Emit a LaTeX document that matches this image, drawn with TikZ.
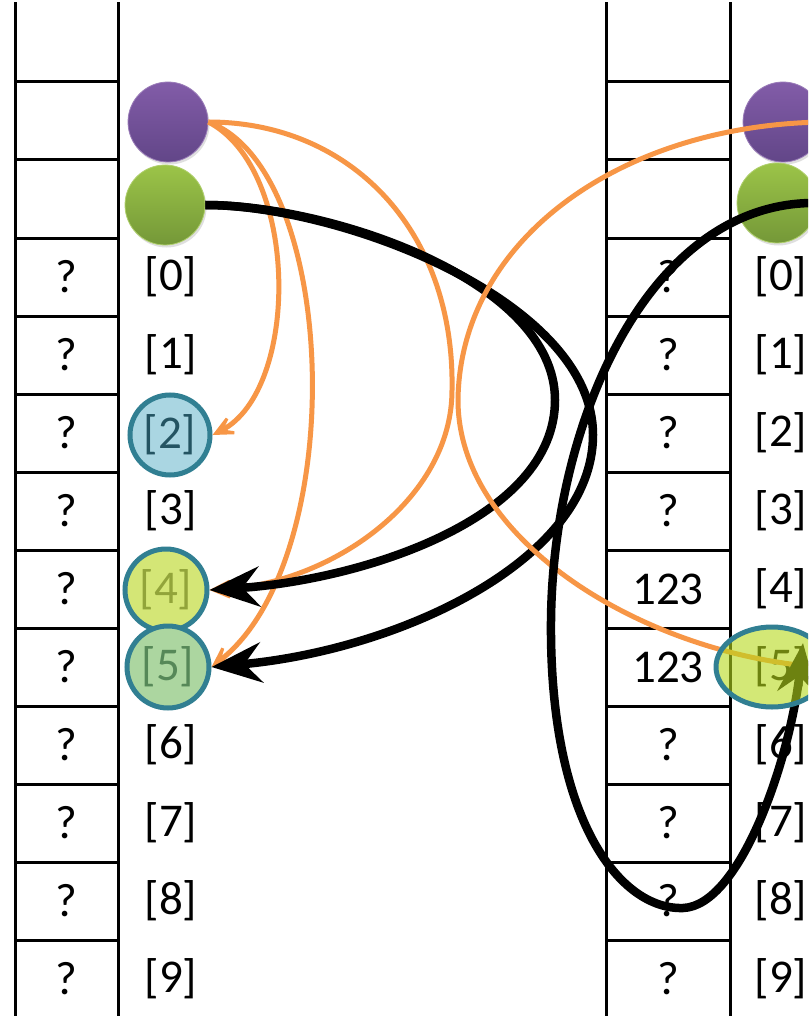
\documentclass[tikz,border=0pt]{standalone}
\usepackage{fontspec}
\setmainfont{Carlito}
\usetikzlibrary{arrows.meta,shadows,shapes.geometric}

\definecolor{accOrange}{RGB}{247,150,70}
\definecolor{purpleTop}{RGB}{130,92,168}
\definecolor{purpleBot}{RGB}{98,70,136}
\definecolor{greenTop}{RGB}{156,196,72}
\definecolor{greenBot}{RGB}{116,152,56}
\definecolor{tealEdge}{RGB}{49,127,146}
\definecolor{blueFill}{RGB}{170,214,226}
\definecolor{blueText}{RGB}{36,84,98}
\definecolor{limeFill}{RGB}{212,230,118}
\definecolor{limeText}{RGB}{146,164,58}
\definecolor{limeGlass}{RGB}{183,217,27}
\definecolor{mintFill}{RGB}{172,214,160}
\definecolor{mintText}{RGB}{86,136,88}

\begin{document}
\begin{tikzpicture}[x=1pt,y=-1pt,
  gridline/.style={line width=3pt, line cap=rect},
  val/.style={font=\fontsize{47}{54}\selectfont, inner sep=0pt},
  ballP/.style={circle, minimum size=80pt, inner sep=0pt,
    top color=purpleTop, bottom color=purpleBot, draw=purpleTop!80!white, line width=0.8pt,
    drop shadow={shadow xshift=1.5pt, shadow yshift=-2.5pt, opacity=0.25}},
  ballG/.style={circle, minimum size=80pt, inner sep=0pt,
    top color=greenTop, bottom color=greenBot, draw=greenTop!80!white, line width=0.8pt,
    drop shadow={shadow xshift=1.5pt, shadow yshift=-2.5pt, opacity=0.25}},
  cellmark/.style={circle, minimum size=#1, inner sep=0pt, draw=tealEdge, line width=5pt,
    font=\fontsize{47}{54}\selectfont},
  oarrow/.style={draw=accOrange, line width=5pt, -{Stealth[length=34pt,width=32pt,inset=22pt]}},
  oline/.style={draw=accOrange, line width=5pt},
  barrow/.style={draw=black, line width=8.5pt, -{Stealth[length=50pt,width=40pt,inset=17pt]}}
]
\useasboundingbox (0,0) rectangle (808,1016);
\clip (0,0) rectangle (808,1016);
\fill[white] (0,0) rectangle (808,1016);

% memory columns
\foreach \xa/\xb in {15/118, 606/730} {
  \draw[gridline] (\xa,4) -- (\xa,1022);
  \draw[gridline] (\xb,4) -- (\xb,1022);
  \foreach \k in {0,...,11}
    \draw[gridline] (\xa,82+78*\k) -- (\xb,82+78*\k);
}

% cell contents and indices
\foreach \k in {0,...,9} {
  \node[val] (lv\k) at (66,277+78*\k) {?};
  \node[val] (ri\k) at (781,277+78*\k) {[\k]};
}
\foreach \k in {0,1,3,6,7,8,9}
  \node[val] (li\k) at (171,277+78*\k) {[\k]};
\foreach \k/\v in {0/?,1/?,2/?,3/?,4/123,5/123,6/?,7/?,8/?,9/?}
  \node[val] (rv\k) at (668,277+78*\k) {\v};

% marked cells on the left
\node[cellmark=80pt, fill=blueFill, text=blueText] (c2) at (170,435) {[2]};
\node[cellmark=82pt, fill=limeFill, text=limeText] (c4) at (166,590) {[4]};
\node[cellmark=82pt, fill=mintFill, text=mintText] (c5) at (168,667) {[5]};

% pointer balls
\node[ballP] (pL) at (168,122) {};
\node[ballG] (gL) at (165,205) {};
\node[ballP] (pR) at (783,122) {};
\node[ballG] (gR) at (777,203) {};

% purple pointer targets
\draw[oarrow] (pL.east) .. controls (300,170) and (300,390) .. (c2.east);
\draw[oarrow] (pL.east) .. controls (340,170) and (350,560) .. (c5.east);
\draw[oarrow] (pL.east) .. controls (350,122) and (455,230) .. (452,390)
                         .. controls (452,500) and (330,585) .. (c4.east);

% green pointer targets
\draw[barrow] (gL.east) .. controls (330,205) and (555,280) .. (555,400)
                         .. controls (555,520) and (360,580) .. (c4.east);
\draw[barrow] (gL.east) .. controls (340,205) and (593,300) .. (593,435)
                         .. controls (593,560) and (400,650) .. (c5.east);

% right-hand pointers
\coordinate (tipR) at (803,643);
\draw[oline] (pR.east) .. controls (620,125) and (460,240) .. (458,400)
                        .. controls (458,540) and (640,650) .. (808,666);
\draw[barrow] (gR.east) .. controls (650,200) and (553,420) .. (551,620)
                         .. controls (549,820) and (620,910) .. (683,908)
                         .. controls (740,906) and (790,760) .. (tipR);

% highlighted cell on the right (translucent, so what lies below shows through)
\node[ellipse, minimum width=112pt, minimum height=80pt, inner sep=0pt,
      fill=limeGlass, fill opacity=0.6, draw=tealEdge, draw opacity=1, line width=5pt]
      (e5) at (772,667) {};
\end{tikzpicture}
\end{document}
